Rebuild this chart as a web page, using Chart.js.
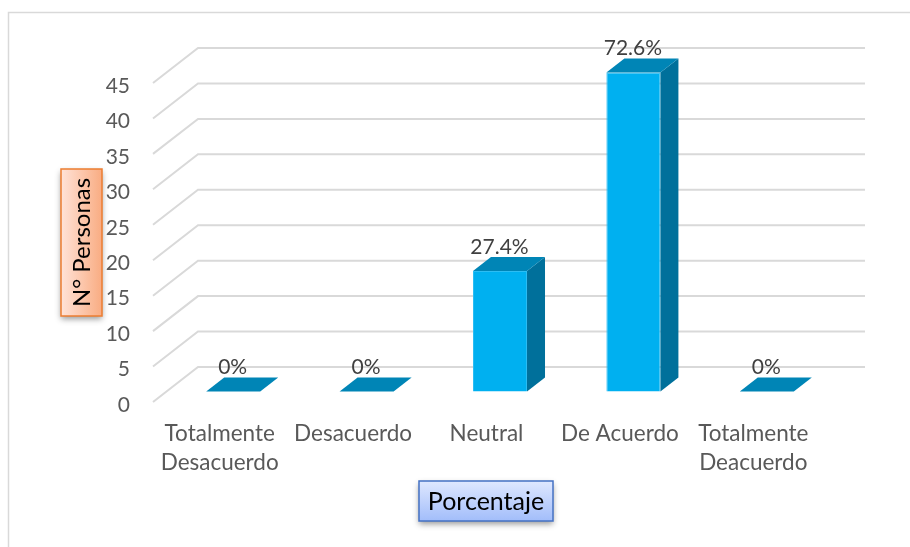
<!DOCTYPE html>
<html>
<head>
<meta charset="utf-8">
<style>
  html, body { margin: 0; padding: 0; background: #fff; }
  canvas { display: block; }
</style>
<script src="https://cdn.jsdelivr.net/npm/chart.js"></script>
</head>
<body>
<canvas id="myChart" width="910" height="547"></canvas>
<script>
const categories = [["Totalmente", "Desacuerdo"], "Desacuerdo", "Neutral", "De Acuerdo", ["Totalmente", "Deacuerdo"]];
const personas = [0, 0, 17, 45, 0];
const porcentajes = ["0%", "0%", "27.4%", "72.6%", "0%"];
const yAxisTitle = "N° Personas";
const xAxisTitle = "Porcentaje";

const FONT = "Lato, 'Open Sans', sans-serif";

// fake 3D: how far the back wall and the bar faces sit from the axis plane
// lift moves the marks up a little so the tick labels sit slightly below their lines
const lift = -3;
const wall = { dx: 45, dy: -35 };
const face = { dx: 13.5, dy: -10.5 + lift };
const bar = { dx: 18, dy: -14 };

function poly(ctx, pts, fill) {
  ctx.beginPath();
  pts.forEach((p, i) => i ? ctx.lineTo(p[0], p[1]) : ctx.moveTo(p[0], p[1]));
  ctx.closePath();
  ctx.fillStyle = fill;
  ctx.fill();
}

function box(ctx, x, y, w, h, grad, border, text, rotated, size) {
  ctx.save();
  ctx.shadowColor = "rgba(0,0,0,0.4)";
  ctx.shadowBlur = 6;
  ctx.shadowOffsetY = 3;
  ctx.fillStyle = grad;
  ctx.fillRect(x, y, w, h);
  ctx.restore();
  ctx.save();
  ctx.strokeStyle = border;
  ctx.lineWidth = 1.5;
  ctx.strokeRect(x, y, w, h);
  ctx.translate(x + w / 2, y + h / 2);
  if (rotated) ctx.rotate(-Math.PI / 2);
  ctx.fillStyle = "#000";
  ctx.font = size + "px " + FONT;
  ctx.textAlign = "center";
  ctx.textBaseline = "middle";
  ctx.fillText(text, 0, 1);
  ctx.restore();
}

const wallPlugin = {
  id: "wall",
  beforeDatasetsDraw(chart) {
    const { ctx, scales: { x, y } } = chart;
    ctx.save();
    // outer frame
    ctx.strokeStyle = "#d9d9d9";
    ctx.lineWidth = 1.5;
    ctx.beginPath();
    ctx.moveTo(8.5, 547);
    ctx.lineTo(8.5, 12.5);
    ctx.lineTo(910, 12.5);
    ctx.stroke();
    // gridlines: diagonal on the side wall, then across the back
    ctx.lineWidth = 2;
    y.ticks.forEach(t => {
      const py = y.getPixelForValue(t.value) + lift;
      ctx.beginPath();
      ctx.moveTo(x.left, py);
      ctx.lineTo(x.left + wall.dx, py + wall.dy);
      ctx.lineTo(x.right + wall.dx, py + wall.dy);
      ctx.stroke();
    });
    ctx.restore();
    // bar faces are drawn by chart.js, shifted back to their depth
    ctx.save();
    ctx.translate(face.dx, face.dy);
  },
  afterDatasetsDraw(chart) {
    const { ctx } = chart;
    const meta = chart.getDatasetMeta(0);
    meta.data.forEach(el => {
      const l = el.x - el.width / 2, r = el.x + el.width / 2;
      if (el.base - el.y > 0) {
        poly(ctx, [[r, el.y], [r + bar.dx, el.y + bar.dy], [r + bar.dx, el.base + bar.dy], [r, el.base]], "#00709b");
      }
      poly(ctx, [[l, el.y], [l + bar.dx, el.y + bar.dy], [r + bar.dx, el.y + bar.dy], [r, el.y]], "#0085b6");
    });
    ctx.fillStyle = "#404040";
    ctx.font = "21px " + FONT;
    ctx.textAlign = "center";
    ctx.textBaseline = "middle";
    meta.data.forEach((el, i) => {
      ctx.fillText(porcentajes[i], el.x - 0.5, el.y - 24);
    });
    ctx.restore();
  },
  afterDraw(chart) {
    const ctx = chart.ctx;
    const orange = ctx.createLinearGradient(61, 0, 102, 0);
    orange.addColorStop(0, "#ffe3d8");
    orange.addColorStop(1, "#f9ac82");
    box(ctx, 61, 169, 41, 147, orange, "#ed7d31", yAxisTitle, true, 24);
    const blue = ctx.createLinearGradient(0, 481, 0, 521);
    blue.addColorStop(0, "#dfe8ff");
    blue.addColorStop(1, "#a2bdfa");
    box(ctx, 419, 481, 134, 40, blue, "#4472c4", xAxisTitle, false, 25);
  }
};

new Chart(document.getElementById("myChart"), {
  type: "bar",
  data: {
    labels: categories,
    datasets: [{
      data: personas,
      backgroundColor: "#00b0f0",
      borderColor: "#2cbdf3",
      borderWidth: 1,
      barPercentage: 0.405,
      categoryPercentage: 1,
      clip: false
    }]
  },
  options: {
    responsive: false,
    animation: false,
    events: [],
    layout: { padding: { left: 0, top: 86, right: 90, bottom: 0 } },
    plugins: { legend: { display: false }, tooltip: { enabled: false } },
    scales: {
      x: {
        grid: { display: false },
        border: { display: false },
        afterFit(s) { s.height = 142; },
        ticks: { color: "#595959", font: { family: FONT, size: 22.5, lineHeight: 1.29 }, padding: 6.5, maxRotation: 0, autoSkip: false }
      },
      y: {
        min: 0,
        max: 45,
        grid: { display: false },
        border: { display: false },
        afterFit(s) { s.width = 153; },
        ticks: { stepSize: 5, color: "#595959", font: { family: FONT, size: 21 }, padding: 15 }
      }
    }
  },
  plugins: [wallPlugin]
});
</script>
</body>
</html>
